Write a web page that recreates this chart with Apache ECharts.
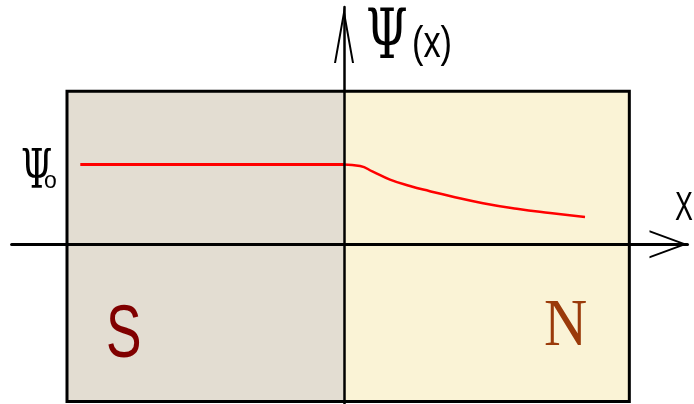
<!DOCTYPE html>
<html>
<head>
<meta charset="utf-8">
<script src="https://cdn.jsdelivr.net/npm/echarts@6/dist/echarts.min.js"></script>
<style>
  html, body { margin: 0; padding: 0; background: #ffffff; }
  #chart { width: 694px; height: 404px; }
</style>
</head>
<body>
<div id="chart"></div>
<script>
// Order parameter across a superconductor (S) / normal metal (N) interface.
// S side: constant amplitude; N side: proximity-induced decay.
const sX = [-4.76, 0];
const sPsi = [1, 1];
const nX = [0, 0.29, 0.52, 0.83, 1.19, 1.55, 1.91, 2.51, 3.12, 3.72, 4.35];
const nPsi = [1, 0.98, 0.91, 0.81, 0.73, 0.665, 0.605, 0.515, 0.445, 0.392, 0.343];

// Extent of the two slabs in the same coordinates.
const slabLeft = -5;
const slabInterface = 0;
const slabRight = 5.15;
const slabBottom = -1.97;
const slabTop = 1.915;

// Axis ranges (the axes run past the slabs and end in open arrowheads).
const xMin = -6, xMax = 6.2;
const yMin = -2.0, yMax = 2.97;

const pairs = (xs, ys) => xs.map((x, i) => [x, ys[i]]);

const chart = echarts.init(document.getElementById('chart'), null, { renderer: 'canvas' });

const chevronX = 'path://M14,0 L28,38 L26,38 L14,5.4 L2,38 L0,38 Z';
const chevronY = 'path://M10,0 L20,56 L18,56 L10,11.2 L2,56 L0,56 Z';

const GREEK = '"DejaVu Serif", serif';
const SERIF = '"Liberation Serif", "Times New Roman", serif';
const SANS = '"Liberation Sans", Arial, sans-serif';

function label(text, x, y, size, family, fill, scaleX) {
  return {
    type: 'text', x: x, y: y, scaleX: scaleX || 1, z: 20,
    style: { text: text, fontSize: size, fontFamily: family, fill: fill, verticalAlign: 'middle', align: 'left' }
  };
}

chart.setOption({
  animation: false,
  backgroundColor: '#ffffff',
  grid: { left: 11.6, top: 7.1, width: 675.9, height: 397.6, containLabel: false },
  xAxis: {
    type: 'value', min: xMin, max: xMax, z: 10,
    axisLine: {
      onZero: true,
      lineStyle: { color: '#000', width: 3 },
      symbol: ['none', chevronX], symbolSize: [28, 38], symbolOffset: [0, -19]
    },
    axisTick: { show: false }, axisLabel: { show: false }, splitLine: { show: false }
  },
  yAxis: {
    type: 'value', min: yMin, max: yMax, z: 10,
    axisLine: {
      onZero: true,
      lineStyle: { color: '#000', width: 2.5 },
      symbol: ['none', chevronY], symbolSize: [20, 56], symbolOffset: [0, -28]
    },
    axisTick: { show: false }, axisLabel: { show: false }, splitLine: { show: false }
  },
  series: [
    {
      name: 'S',
      type: 'line',
      data: pairs(sX, sPsi),
      showSymbol: false,
      lineStyle: { color: '#ff0000', width: 3 },
      z: 3,
      markArea: {
        silent: true,
        data: [
          [{ xAxis: slabLeft, yAxis: slabBottom, itemStyle: { color: '#e3ddd2', borderWidth: 0 } },
           { xAxis: slabInterface, yAxis: slabTop }],
          [{ xAxis: slabInterface, yAxis: slabBottom, itemStyle: { color: '#faf3d6', borderWidth: 0 } },
           { xAxis: slabRight, yAxis: slabTop }],
          [{ xAxis: slabLeft, yAxis: slabBottom, itemStyle: { color: 'rgba(0,0,0,0)', borderColor: '#000', borderWidth: 3 } },
           { xAxis: slabRight, yAxis: slabTop }]
        ]
      }
    },
    {
      name: 'N',
      type: 'line',
      data: pairs(nX, nPsi),
      smooth: 0.5,
      showSymbol: false,
      lineStyle: { color: '#ff0000', width: 2.5 },
      z: 3
    }
  ],
  graphic: [
    label('Ψ', 366, 40, 70, GREEK, '#000', 0.68),
    label('(x)', 412, 45, 44, SANS, '#000', 0.78),
    label('X', 675, 209, 40, SANS, '#000', 0.67),
    label('Ψ', 21, 174, 54, GREEK, '#000', 0.66),
    label('o', 44, 182, 23, SANS, '#000', 1),
    label('S', 106, 337, 74, SANS, '#800000', 0.72),
    label('N', 544, 327, 68, SERIF, '#9a3a0a', 0.88)
  ]
});
</script>
</body>
</html>
